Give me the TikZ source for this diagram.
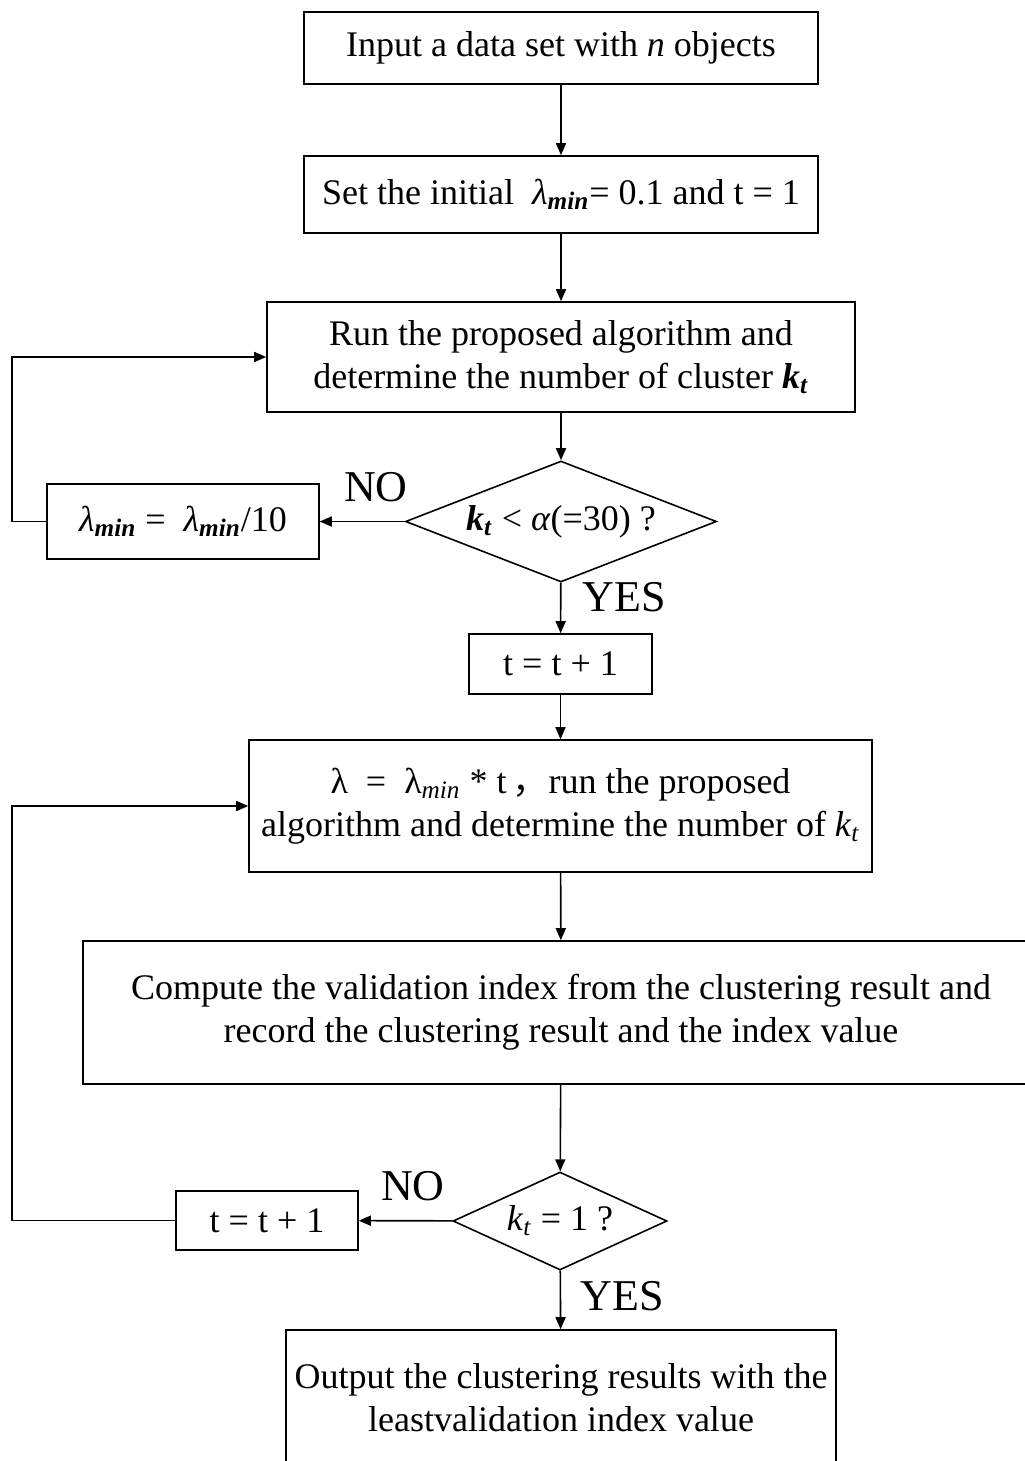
\documentclass[tikz,border=0pt]{standalone}
\usepackage{fontspec}
\setmainfont{Liberation Serif}
\newfontfamily\cjk{Noto Sans CJK SC}
\usetikzlibrary{
    arrows.meta,
    shapes.geometric
}
\newcommand{\lmin}{\textit{λ}\textsubscript{\textbf{\textit{min}}}}
\newcommand{\kt}{\textbf{\textit{k}}\textsubscript{\textbf{\textit{t}}}}
\tikzset{
  every path/.style={
    black,
    line width=0.8pt
  },
  every node/.style={
    inner sep=0pt,
    align=center,
    font=\fontsize{18}{21.5}\selectfont
  },
  stepbox/.style={
    draw,
    rectangle
  },
  testbox/.style={
    draw,
    diamond
  },
  flow/.style={
    -{Triangle[length=6pt,width=5pt]}
  },
  answer/.style={
    font=\fontsize{22}{24}\selectfont
  }
}
\begin{document}
\begin{tikzpicture}[x=0.5pt,y=-0.5pt]
\useasboundingbox (0,0) rectangle (1024,1461);
\node[stepbox,minimum width=257pt,minimum height=36pt] (in) at (561,48)
    {Input a data set with \textit{n} objects};
\node[stepbox,minimum width=257pt,minimum height=38.5pt] (init) at (561,194.5)
    {Set the initial \ \lmin= 0.1 and t = 1};
\node[stepbox,minimum width=294pt,minimum height=55pt] (run) at (561,357)
    {Run the proposed algorithm and\\determine the number of cluster \kt};
\node[testbox,minimum width=155.5pt,minimum height=60.5pt,aspect=2.57] (chkA) at (561,521.5)
    {\kt\ < \textit{α}(=30) ?};
\node[stepbox,minimum width=136pt,minimum height=37.5pt] (shrink) at (183,521.5)
    {\lmin\ = \ \lmin/10};
\node[stepbox,minimum width=91.5pt,minimum height=30pt] (incA) at (560.5,664)
    {t = t + 1};
\node[stepbox,minimum width=311.5pt,minimum height=66pt] (upd) at (560.5,806)
    {λ \ = \ λ\textsubscript{\textit{min}} * t\,{\cjk ，}run the proposed\\algorithm and determine the number of \textit{k}\textsubscript{\textit{t}}};
\node[stepbox,minimum width=478pt,minimum height=71.5pt] (comp) at (561,1012.5)
    {Compute the validation index from the clustering result and\\record the clustering result and the index value};
\node[testbox,minimum width=107pt,minimum height=49pt,aspect=2.18] (chkB) at (560,1221)
    {\textit{k}\textsubscript{\textit{t}} = 1 ?};
\node[stepbox,minimum width=91pt,minimum height=29.5pt] (incB) at (267,1220.5)
    {t = t + 1};
\node[stepbox,minimum width=275pt,minimum height=68pt] (out) at (561,1398)
    {Output the clustering results with the\\leastvalidation index value};

\node[answer] (noA) at (376,487) {NO};
\node[answer] (yesA) at (624,597) {YES};
\node[answer] (noB) at (413,1186) {NO};
\node[answer] (yesB) at (622,1296) {YES};

\coordinate (backA) at (12,521.5);
\coordinate (backB) at (12,1220.5);

\draw[flow] (in) -- (init);
\draw[flow] (init) -- (run);
\draw[flow] (run) -- (chkA);
\draw[flow] (chkA) -- (shrink);
\draw[flow] (shrink.west) -- (backA) |- (run.west);
\draw[flow] (chkA) -- (incA);
\draw[flow] (incA) -- (upd);
\draw[flow] (upd) -- (comp);
\draw[flow] (comp) -- (chkB);
\draw[flow] (chkB) -- (incB);
\draw[flow] (incB.west) -- (backB) |- (upd.west);
\draw[flow] (chkB) -- (out);
\end{tikzpicture}
\end{document}
